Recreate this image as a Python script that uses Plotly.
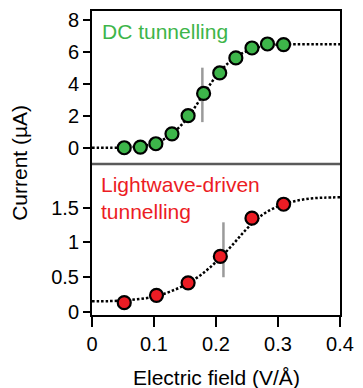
import plotly.graph_objects as go

# ---- data ----
dc_field = [0.052, 0.078, 0.103, 0.129, 0.155, 0.180, 0.206, 0.232, 0.258, 0.283, 0.309]
dc_current = [0.0, 0.04, 0.25, 0.87, 2.0, 3.39, 4.67, 5.61, 6.23, 6.48, 6.44]

dc_fit_field = [0.0, 0.04, 0.06, 0.08, 0.10, 0.12, 0.14, 0.16, 0.18, 0.20, 0.22, 0.24, 0.26, 0.28, 0.30, 0.32, 0.36, 0.40]
dc_fit_current = [0.0, 0.0, 0.03, 0.1, 0.27, 0.62, 1.25, 2.2, 3.35, 4.45, 5.3, 5.85, 6.18, 6.37, 6.44, 6.46, 6.47, 6.47]

lw_field = [0.052, 0.104, 0.155, 0.207, 0.258, 0.309]
lw_current = [0.134, 0.24, 0.42, 0.80, 1.35, 1.55]

lw_fit_field = [0.0, 0.05, 0.10, 0.125, 0.15, 0.175, 0.20, 0.225, 0.25, 0.275, 0.30, 0.325, 0.35, 0.375, 0.40]
lw_fit_current = [0.155, 0.165, 0.22, 0.29, 0.39, 0.53, 0.72, 0.95, 1.2, 1.4, 1.52, 1.59, 1.63, 1.645, 1.65]

dc_marker_x = [0.178, 0.178]
dc_marker_y = [1.6, 5.0]
lw_marker_x = [0.212, 0.212]
lw_marker_y = [0.50, 1.29]

x_ticks = [0, 0.1, 0.2, 0.3, 0.4]
x_ticklabels = ["0", "0.1", "0.2", "0.3", "0.4"]
top_ticks = [0, 2, 4, 6, 8]
bot_ticks = [0, 0.5, 1, 1.5]
bot_ticklabels = ["0", "0.5", "1", "1.5"]

GREEN = "#3db54a"
RED = "#ec1c24"
GRAY = "#9a9a9a"
FONT = "Liberation Sans, Arial, sans-serif"

fig = go.Figure()

# top panel (DC)
fig.add_trace(go.Scatter(x=dc_marker_x, y=dc_marker_y, mode="lines",
                         line=dict(color=GRAY, width=2.5), xaxis="x2", yaxis="y", showlegend=False))
fig.add_trace(go.Scatter(x=dc_fit_field, y=dc_fit_current, mode="lines", line_shape="spline",
                         line=dict(color="black", width=2.5, dash="2.5px,2px"),
                         xaxis="x2", yaxis="y", showlegend=False))
fig.add_trace(go.Scatter(x=dc_field, y=dc_current, mode="markers",
                         marker=dict(size=13, color=GREEN, line=dict(color="black", width=2.2)),
                         xaxis="x2", yaxis="y", showlegend=False))

# bottom panel (lightwave)
fig.add_trace(go.Scatter(x=lw_marker_x, y=lw_marker_y, mode="lines",
                         line=dict(color=GRAY, width=2.5), xaxis="x", yaxis="y2", showlegend=False))
fig.add_trace(go.Scatter(x=lw_fit_field, y=lw_fit_current, mode="lines", line_shape="spline",
                         line=dict(color="black", width=2.5, dash="2.5px,2px"),
                         xaxis="x", yaxis="y2", showlegend=False))
fig.add_trace(go.Scatter(x=lw_field, y=lw_current, mode="markers",
                         marker=dict(size=13, color=RED, line=dict(color="black", width=2.2)),
                         xaxis="x", yaxis="y2", showlegend=False))

split = 0.497

fig.update_layout(
    width=363, height=388,
    margin=dict(l=92, r=17, t=9, b=73),
    paper_bgcolor="white", plot_bgcolor="white",
    font=dict(family=FONT, size=20, color="black"),
    xaxis=dict(domain=[0, 1], anchor="y2", range=[0, 0.4], tickvals=x_ticks, ticktext=x_ticklabels,
               ticks="outside", ticklen=10, tickwidth=2, tickcolor="black",
               showline=True, linewidth=2, linecolor="black", mirror=False,
               showgrid=False, zeroline=False, tickfont=dict(size=20)),
    xaxis2=dict(domain=[0, 1], anchor="y", matches="x", range=[0, 0.4], side="top",
                showticklabels=False, ticks="", showline=True, linewidth=2, linecolor="black",
                showgrid=False, zeroline=False),
    yaxis=dict(domain=[split, 1], anchor="x2", range=[-1.01, 8.54], tickvals=top_ticks,
               ticks="outside", ticklen=7, tickwidth=2, tickcolor="black",
               showline=True, linewidth=2, linecolor="black", mirror=True,
               showgrid=False, zeroline=False, tickfont=dict(size=20)),
    yaxis2=dict(domain=[0, split], anchor="x", range=[-0.043, 2.13], tickvals=bot_ticks,
                ticktext=bot_ticklabels,
                ticks="outside", ticklen=7, tickwidth=2, tickcolor="black",
                showline=True, linewidth=2, linecolor="black", mirror=True,
                showgrid=False, zeroline=False, tickfont=dict(size=20)),
    shapes=[dict(type="line", xref="paper", yref="paper", x0=0, x1=1, y0=split, y1=split,
                 line=dict(color="#5a5a5a", width=2.5))],
    annotations=[
        dict(text="DC tunnelling", xref="paper", yref="paper", x=0.032, y=0.931,
             xanchor="left", yanchor="middle", showarrow=False,
             font=dict(family=FONT, size=21, color=GREEN)),
        dict(text="Lightwave-driven<br>tunnelling", xref="paper", yref="paper", x=0.028, y=0.386,
             xanchor="left", yanchor="middle", align="left", showarrow=False,
             font=dict(family=FONT, size=21, color=RED)),
        dict(text="Current (µA)", xref="paper", yref="paper", x=-0.295, y=0.5,
             xanchor="center", yanchor="middle", textangle=-90, showarrow=False,
             font=dict(family=FONT, size=21, color="black")),
        dict(text="Electric field (V/Å)", xref="paper", yref="paper", x=0.5, y=-0.206,
             xanchor="center", yanchor="middle", showarrow=False,
             font=dict(family=FONT, size=21, color="black")),
    ],
)

fig.write_html("out.html")
